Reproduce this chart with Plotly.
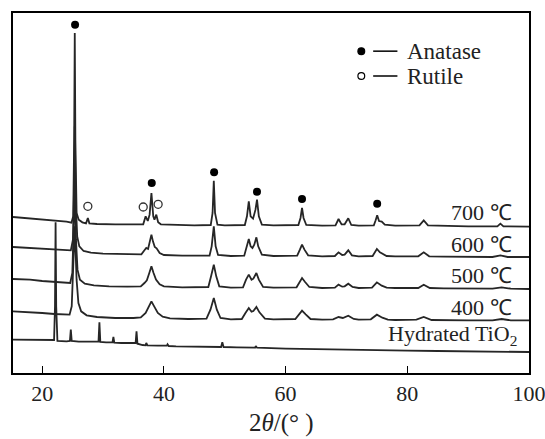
import plotly.graph_objects as go

# ---- data: XRD patterns (2theta in degrees, intensity in a.u. with vertical offsets) ----
tt_700 = [15.2, 18, 20, 22, 24, 24.8, 25.1, 25.25, 25.35, 25.45, 25.65, 26.0, 26.6, 27.2, 27.5, 27.75, 29, 32, 35, 36.6,
          37.0, 37.35, 37.65, 37.95, 38.25, 38.45, 38.75, 39.05, 39.5, 42, 45, 47.7, 48.0, 48.2, 48.4, 48.8, 50, 53.3,
          53.65, 53.95, 54.25, 54.65, 55.05, 55.3, 55.6, 56.1, 58, 62.1, 62.45, 62.7, 62.95, 63.4, 66, 68.2, 68.7, 69.2,
          69.7, 70.3, 70.8, 72, 74.5, 74.8, 75.05, 75.35, 75.8, 76.3, 78, 82.0, 82.7, 83.4, 86, 90, 94.8, 95.3, 95.8, 98, 100]
I_700 = [46.8, 46.4, 46.1, 45.8, 45.4, 45.1, 47.0, 70.0, 102.0, 70.0, 48.0, 46.0, 45.2, 44.9, 46.5, 44.9, 44.7, 44.6, 44.5, 44.6,
         47.0, 45.6, 47.5, 54.0, 47.0, 46.0, 47.5, 45.2, 44.6, 44.4, 44.3, 44.4, 48.0, 57.7, 48.0, 44.5, 44.3, 44.4,
         47.0, 51.5, 47.0, 46.3, 49.0, 52.0, 47.0, 44.5, 44.3, 44.4, 46.5, 49.5, 46.5, 44.4, 44.2, 44.3, 46.2, 44.6,
         44.6, 46.4, 44.4, 44.2, 44.3, 45.8, 47.3, 45.6, 45.4, 44.5, 44.2, 44.3, 45.8, 44.3, 44.1, 44.0, 44.0, 44.8, 44.0, 43.9, 43.9]

tt_600 = [15.2, 18, 20, 22, 24, 24.7, 25.05, 25.2, 25.35, 25.5, 25.75, 26.1, 26.8, 28, 30, 33, 36.3, 36.8, 37.1, 37.4, 37.7,
          37.95, 38.2, 38.5, 38.8, 39.3, 40, 43, 47.5, 47.85, 48.2, 48.5, 48.9, 51, 53.2, 53.6, 53.95, 54.25, 54.55,
          54.85, 55.2, 55.5, 56.1, 58, 61.9, 62.35, 62.7, 63.1, 63.7, 66, 68.1, 68.7, 69.3, 69.7, 70.3, 70.9, 72, 74.3,
          75.0, 75.5, 76.0, 76.6, 78, 81.8, 82.7, 83.6, 86, 90, 94, 95.3, 96.5, 100]
I_600 = [37.8, 37.5, 37.2, 37.0, 36.7, 36.8, 40.0, 52.0, 74.0, 52.0, 41.0, 38.0, 36.6, 36.1, 35.8, 35.6, 35.6, 36.8, 37.5, 37.2, 40.0,
         41.5, 39.5, 37.8, 37.4, 36.0, 35.4, 35.2, 35.2, 38.0, 44.0, 38.0, 35.4, 35.1, 35.2, 37.5, 40.2, 38.0, 37.5,
         38.5, 40.7, 38.0, 35.5, 35.1, 35.2, 37.0, 38.5, 37.0, 35.3, 35.0, 35.1, 36.2, 35.4, 35.5, 36.8, 35.3, 35.0, 35.1,
         37.2, 36.2, 35.8, 35.1, 35.0, 35.0, 36.2, 35.0, 34.9, 34.8, 34.8, 35.3, 34.8, 34.8]

tt_500 = [15.2, 18, 20, 22, 24, 24.6, 24.95, 25.15, 25.35, 25.55, 25.8, 26.2, 27, 28.5, 31, 34, 36.2, 36.8, 37.2, 37.6, 37.95,
          38.3, 38.7, 39.3, 40, 43, 47.3, 47.75, 48.2, 48.6, 49.1, 51, 53.0, 53.5, 53.95, 54.4, 54.7, 55.2, 55.6, 56.3,
          58, 61.8, 62.3, 62.7, 63.2, 63.9, 66, 68.1, 68.7, 69.3, 69.7, 70.3, 71.0, 72, 74.2, 75.0, 75.8, 76.6, 78, 81.8,
          82.7, 83.7, 86, 90, 94, 95.5, 97, 100]
I_500 = [28.2, 28.0, 27.6, 27.3, 26.9, 27.0, 30.0, 40.0, 56.0, 40.0, 31.0, 28.0, 26.8, 26.3, 26.0, 25.9, 26.0, 27.0, 27.8, 30.0, 32.0,
         30.0, 28.0, 26.6, 26.0, 25.7, 25.8, 29.0, 32.5, 29.0, 26.0, 25.6, 25.7, 28.0, 29.5, 28.0, 28.3, 30.0, 28.0, 25.8,
         25.6, 25.7, 27.3, 28.5, 27.3, 25.8, 25.5, 25.6, 26.5, 25.9, 26.0, 26.8, 25.8, 25.5, 25.6, 27.2, 26.2, 25.6, 25.5, 25.5,
         26.5, 25.5, 25.4, 25.3, 25.3, 25.7, 25.3, 25.2]

tt_400 = [15.2, 18, 20, 22, 24, 24.5, 24.85, 25.05, 25.35, 25.65, 25.95, 26.4, 27.3, 29, 32, 35, 36.2, 37.0, 37.5, 37.95, 38.4,
          39.0, 39.8, 41, 44, 47.0, 47.65, 48.2, 48.7, 49.3, 51, 52.8, 53.4, 53.95, 54.4, 54.7, 55.2, 55.7, 56.6, 58, 61.6,
          62.2, 62.7, 63.3, 64.1, 66, 67.8, 68.7, 69.4, 70.3, 71.2, 72, 74.0, 75.0, 75.9, 76.8, 78, 81.5, 82.7, 84.0, 86,
          90, 94, 95.5, 97, 100]
I_400 = [18.5, 18.3, 18.0, 17.7, 17.4, 17.5, 20.0, 28.0, 44.0, 28.0, 21.0, 18.5, 17.3, 16.8, 16.5, 16.5, 16.7, 18.0, 20.0, 21.5, 20.0,
         18.0, 16.9, 16.4, 16.2, 16.3, 19.0, 22.5, 19.0, 16.5, 16.1, 16.2, 18.0, 19.5, 18.4, 18.6, 19.8, 18.2, 16.3, 16.1, 16.2,
         17.7, 18.7, 17.6, 16.2, 16.0, 16.1, 16.8, 16.5, 17.2, 16.2, 16.0, 16.1, 17.5, 16.6, 16.0, 15.9, 16.0, 16.8, 15.9, 15.8,
         15.8, 15.8, 16.2, 15.8, 15.8]

tt_hyd = [15.2, 18, 20, 21.95, 22.1, 22.2, 22.3, 22.5, 24.0, 24.55, 24.7, 24.85, 26, 28, 29.25, 29.4, 29.55, 30.5, 31.55, 31.7,
          31.85, 33, 35.35, 35.5, 35.65, 36.5, 37.0, 37.1, 37.3, 39, 40.5, 40.6, 40.8, 42, 45, 49.4, 49.6, 49.8, 52, 55.0,
          55.1, 55.3, 60, 65, 70, 75, 80, 85, 90, 95, 100]
I_hyd = [10.0, 10.0, 9.9, 9.9, 20.0, 45.2, 20.0, 9.6, 9.5, 9.6, 13.0, 9.6, 9.4, 9.3, 9.4, 15.2, 9.3, 9.2, 9.2, 10.8,
         9.1, 9.0, 9.0, 12.5, 8.8, 8.4, 8.3, 9.0, 8.3, 8.2, 8.2, 8.6, 8.1, 8.0, 7.9, 7.8, 9.2, 7.8, 7.7, 7.6,
         8.1, 7.6, 7.3, 7.1, 6.9, 6.8, 6.7, 6.6, 6.5, 6.4, 6.3]

# phase markers
anatase_tt = [25.4, 38.0, 48.25, 55.3, 62.7, 75.05]
anatase_I = [104.5, 57.0, 60.2, 54.4, 52.2, 50.8]
rutile_tt = [27.5, 36.6, 39.05]
rutile_I = [50.0, 49.8, 50.6]

# curve labels
label_texts = ["700 ℃", "600 ℃", "500 ℃", "400 ℃", "Hydrated TiO<sub>2</sub>"]
label_tt = [97.5, 97.6, 97.6, 97.6, 98.4]
label_I = [48.2, 38.6, 29.4, 19.8, 11.5]

x_ticks = [20, 40, 60, 80, 100]

FONT = "Liberation Serif, Times New Roman, serif"
LINE = "#262626"

fig = go.Figure()
for tt, I in [(tt_hyd, I_hyd), (tt_400, I_400), (tt_500, I_500), (tt_600, I_600), (tt_700, I_700)]:
    fig.add_trace(go.Scatter(x=tt, y=I, mode="lines", line=dict(color=LINE, width=1.8),
                             showlegend=False, hoverinfo="skip"))

fig.add_trace(go.Scatter(x=anatase_tt, y=anatase_I, mode="markers",
                         marker=dict(symbol="circle", size=8, color="black"), showlegend=False))
fig.add_trace(go.Scatter(x=rutile_tt, y=rutile_I, mode="markers",
                         marker=dict(symbol="circle-open", size=8, color="#333", line=dict(width=1.3)),
                         showlegend=False))

for t, xx, yy in zip(label_texts, label_tt, label_I):
    fig.add_annotation(x=xx, y=yy, text=t, showarrow=False, xanchor="right", yanchor="middle",
                       font=dict(family=FONT, size=22, color="#222"))

# legend (drawn by hand: "● — Anatase", "○ — Rutile")
leg_items = [("Anatase", 0.894, "black"), ("Rutile", 0.825, "white")]
for name, yy, fill in leg_items:
    fig.add_shape(type="circle", xref="paper", yref="paper", xsizemode="pixel", ysizemode="pixel",
                  xanchor=0.675, yanchor=yy, x0=-3.4, x1=3.4, y0=-3.4, y1=3.4,
                  fillcolor=fill, line=dict(color="black", width=1.2))
    fig.add_shape(type="line", xref="paper", yref="paper", x0=0.698, x1=0.745, y0=yy, y1=yy,
                  line=dict(color="black", width=1.5))
    fig.add_annotation(xref="paper", yref="paper", x=0.76, y=yy, text=name, showarrow=False,
                       xanchor="left", yanchor="middle", font=dict(family=FONT, size=23, color="#222"))

fig.add_annotation(xref="paper", yref="paper", x=0.521, y=-0.14, text="2<i>θ</i>/(° )", showarrow=False,
                   xanchor="center", yanchor="middle", font=dict(family=FONT, size=25, color="#222"))

fig.update_xaxes(range=[15.2, 100], tickvals=x_ticks, ticks="inside", ticklen=7, tickwidth=1.3,
                 tickcolor="black", showline=True, linecolor="black", linewidth=1.5, mirror=True,
                 showgrid=False, zeroline=False, ticklabeloverflow="allow", automargin=False,
                 tickfont=dict(family=FONT, size=22, color="#222"))
fig.update_yaxes(range=[0, 108], showticklabels=False, ticks="", showline=True, linecolor="black",
                 linewidth=1.5, mirror=True, showgrid=False, zeroline=False, automargin=False)

fig.update_layout(width=545, height=439, margin=dict(l=13, r=16, t=13, b=66, autoexpand=False),
                  plot_bgcolor="white", paper_bgcolor="white", showlegend=False)

fig.write_html("out.html")
